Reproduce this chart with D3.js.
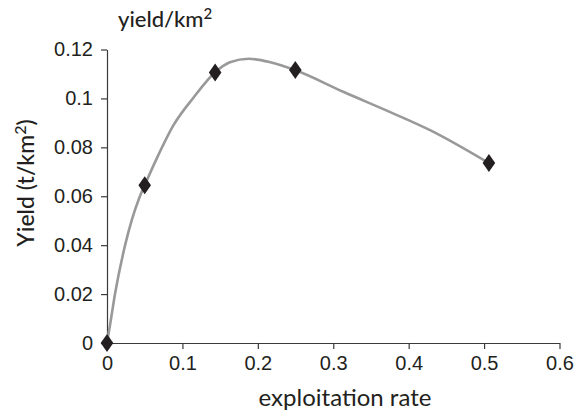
<!DOCTYPE html>
<html>
<head>
<meta charset="utf-8">
<script src="https://cdn.jsdelivr.net/npm/d3@7"></script>
<style>
  body { margin: 0; background: #fff; }
  svg { font-family: "Lato", "Open Sans", sans-serif; }
</style>
</head>
<body>
<svg id="chart" width="587" height="412"></svg>
<script>
// observed points (diamonds)
var rateObs = [0, 0.05, 0.1434, 0.2497, 0.5064];
var yieldObs = [0, 0.0645, 0.1106, 0.1116, 0.0736];

// fitted curve
var rateFit = [0, 0.004, 0.0106, 0.024, 0.043, 0.05, 0.066, 0.088, 0.1146, 0.1434, 0.163, 0.1877, 0.2165, 0.25, 0.314, 0.38, 0.429, 0.506];
var yieldFit = [0, 0.0073, 0.020, 0.040, 0.0595, 0.0645, 0.0755, 0.089, 0.1003, 0.1107, 0.1148, 0.1162, 0.1148, 0.1115, 0.1026, 0.0938, 0.0869, 0.0736];

var xTicks = [0, 0.1, 0.2, 0.3, 0.4, 0.5, 0.6];
var yTicks = [0, 0.02, 0.04, 0.06, 0.08, 0.1, 0.12];

var svg = d3.select("#chart");

var x = d3.scaleLinear().domain([0, 0.6]).range([107, 559.5]);
var y = d3.scaleLinear().domain([0, 0.12]).range([343, 49.5]);

function fmt(d) {
    if (d == 0) return "0";
    return String(+d.toFixed(2));
}

var gx = svg.append("g")
    .attr("transform", "translate(0,343)")
    .call(d3.axisBottom(x).tickValues(xTicks).tickFormat(fmt).tickSize(6).tickSizeOuter(0).tickPadding(7));

var gy = svg.append("g")
    .attr("transform", "translate(107,0)")
    .call(d3.axisLeft(y).tickValues(yTicks).tickFormat(fmt).tickSize(6).tickSizeOuter(0).tickPadding(8));

[gx, gy].forEach(function(g) {
    g.select(".domain").attr("stroke", "#3a3a3a").attr("stroke-width", 1.2);
    g.selectAll(".tick line").attr("stroke", "#3a3a3a").attr("stroke-width", 1.2);
    g.selectAll(".tick text")
        .attr("fill", "#231f20")
        .style("font-size", "20px")
        .style("font-weight", 300);
});

// curve
var fitData = rateFit.map(function(r, i) { return [r, yieldFit[i]]; });
var line = d3.line()
    .x(function(d) { return x(d[0]); })
    .y(function(d) { return y(d[1]); })
    .curve(d3.curveMonotoneX);

svg.append("path")
    .datum(fitData)
    .attr("d", line)
    .attr("fill", "none")
    .attr("stroke", "#999999")
    .attr("stroke-width", 2.6);

// diamonds
var obsData = rateObs.map(function(r, i) { return [r, yieldObs[i]]; });
svg.selectAll(".pt").data(obsData)
    .enter().append("path")
    .attr("class", "pt")
    .attr("transform", function(d) { return "translate(" + x(d[0]) + "," + y(d[1]) + ")"; })
    .attr("d", "M0,-9L6.3,0L0,9L-6.3,0Z")
    .attr("fill", "#231f20");

// titles
svg.append("text")
    .attr("x", 118)
    .attr("y", 27)
    .attr("fill", "#231f20")
    .style("font-size", "22px")
    .style("font-weight", 500)
    .html('yield/km<tspan dy="-8" style="font-size:15px">2</tspan>');

svg.append("text")
    .attr("x", 345)
    .attr("y", 406)
    .attr("text-anchor", "middle")
    .attr("fill", "#231f20")
    .style("font-size", "24px")
    .style("font-weight", 400)
    .text("exploitation rate");

svg.append("text")
    .attr("transform", "translate(34,183) rotate(-90)")
    .attr("text-anchor", "middle")
    .attr("fill", "#231f20")
    .style("font-size", "23px")
    .style("font-weight", 500)
    .html('Yield (t/km<tspan dy="-8" style="font-size:16px">2</tspan><tspan dy="8">)</tspan>');
</script>
</body>
</html>
